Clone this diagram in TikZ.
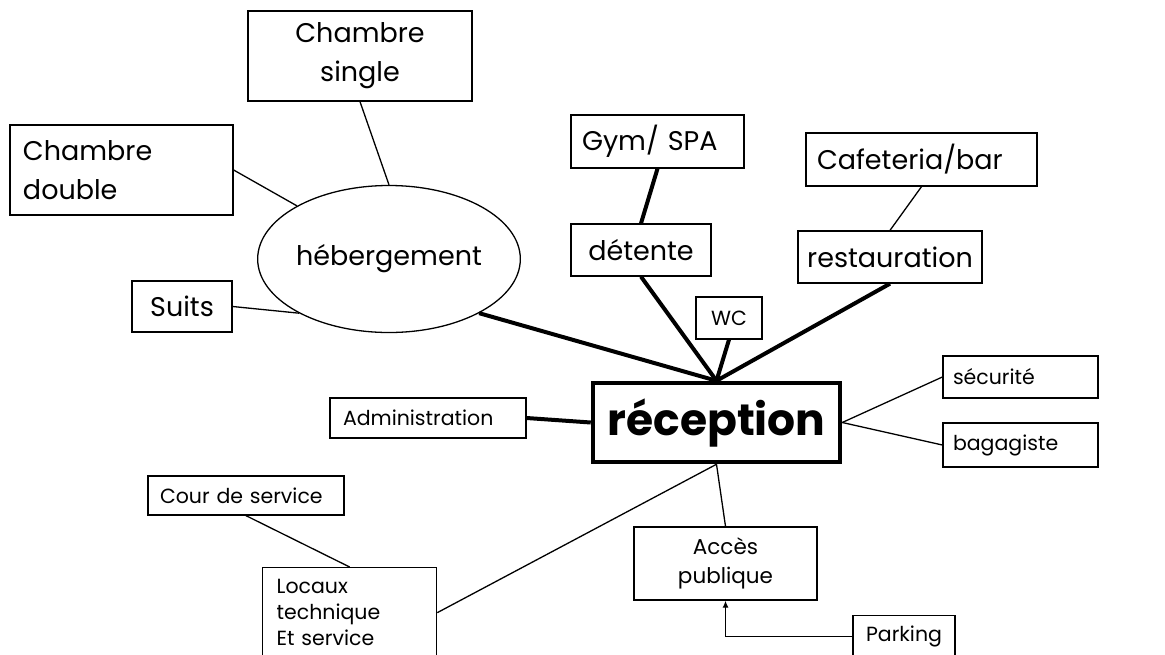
\documentclass[tikz,border=0pt]{standalone}
\usepackage{fontspec}
\setmainfont{Poppins}
\usetikzlibrary{arrows.meta,shapes.geometric,positioning}
\tikzset{
    box/.style={draw, line width=1.3pt, inner sep=0pt, align=center},
    leftbox/.style={box, align=left},
    bigtxt/.style={font=\fontsize{27}{39}\selectfont},
    smalltxt/.style={font=\fontsize{20.5}{26}\selectfont},
    link/.style={line width=1.3pt},
    heavylink/.style={line width=4pt},
}

\begin{document}
\begin{tikzpicture}[x=1pt, y=-1pt]
        \clip (0,0) rectangle (1165,654);

        \node[box, bigtxt, minimum width=224pt, minimum height=90pt] (single) at (360,56) {Chambre\\single};
        \node[leftbox, bigtxt, text width=197pt, inner xsep=13pt, minimum height=90pt] (double) at (121.5,170) {Chambre\\double};
        \node[draw, ellipse, line width=1.3pt, inner sep=0pt, bigtxt, minimum width=232pt, minimum height=147pt] (heb) at (389,259) {hébergement};
        \node[box, bigtxt, minimum width=100pt, minimum height=51pt] (suits) at (182,306.5) {Suits};

        \node[leftbox, bigtxt, text width=151pt, inner xsep=11pt, minimum height=53pt] (gym) at (657.5,141.5) {Gym/ SPA};
        \node[box, bigtxt, minimum width=140pt, minimum height=52pt] (detente) at (641,250) {détente};
        \node[leftbox, bigtxt, text width=209pt, inner xsep=11pt, minimum height=53pt] (cafe) at (921.5,159.5) {Cafeteria/bar};
        \node[box, bigtxt, minimum width=184pt, minimum height=52pt] (resto) at (890,257) {restauration};
        \node[box, smalltxt, minimum width=66pt, minimum height=42pt] (wc) at (729,318) {WC};

        \node[draw, line width=4.5pt, inner sep=0pt, minimum width=247pt, minimum height=79pt,
              font=\fontsize{44}{52}\selectfont\bfseries] (reception) at (716.5,422.5) {réception};

        \node[leftbox, smalltxt, text width=135pt, inner xsep=10pt, minimum height=42pt] (securite) at (1020.5,377) {sécurité};
        \node[leftbox, smalltxt, text width=135pt, inner xsep=10pt, minimum height=44pt] (bagagiste) at (1020.5,445) {bagagiste};
        \node[leftbox, smalltxt, text width=170pt, inner xsep=13pt, minimum height=40pt] (admin) at (428,418) {Administration};
        \node[leftbox, smalltxt, text width=172pt, inner xsep=12pt, minimum height=39pt] (cour) at (246,495.5) {Cour de service};
        \node[leftbox, smalltxt, text width=146pt, inner xsep=14pt, minimum height=90pt, anchor=north west] (locaux) at (262,567) {Locaux\\technique\\Et service};
        \node[box, font=\fontsize{21.5}{29}\selectfont, minimum width=183pt, minimum height=73pt] (acces) at (725.5,563.5) {Accès\\publique};
        \node[box, smalltxt, minimum width=102pt, minimum height=42pt, anchor=north] (parking) at (904,615) {Parking};

        % hebergement
        \draw[link] (single.south) -- (heb.north);
        \draw[link] (double.east) -- (heb.150);
        \draw[link] (suits.east) -- (heb.211);

        % autour de la reception
        \draw[heavylink] (heb.329) -- (reception.north);
        \draw[heavylink] (gym.south) -- (detente.north);
        \draw[heavylink] (detente.south) -- (reception.north);
        \draw[heavylink] (wc.south) -- (reception.north);
        \draw[heavylink] (resto.south) -- (reception.north);
        \draw[link] (cafe.south) -- (resto.north);
        \draw[heavylink] (admin.east) -- (reception.west);
        \draw[link] (reception.east) -- (securite.west);
        \draw[link] (reception.east) -- (bagagiste.west);
        \draw[link] (reception.south) -- (acces.north);
        \draw[link] (reception.south) -- (locaux.east);
        \draw[link] (cour.south) -- (locaux.north);
        \draw[link, -{Latex[length=7pt, width=6pt]}] (parking.west) -| (acces.south);
    \end{tikzpicture}
\end{document}
